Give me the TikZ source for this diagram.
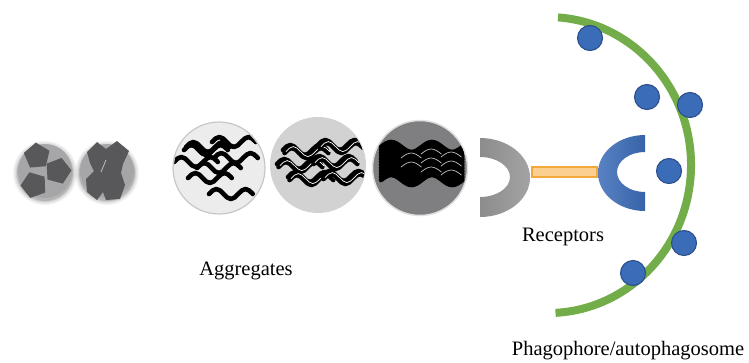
\documentclass[tikz,border=0pt]{standalone}
\usepackage{fontspec}
\setmainfont{Liberation Serif}
\usetikzlibrary{shapes.geometric}
\definecolor{cellgray}{HTML}{A6A6A8}
\definecolor{clump}{HTML}{58585A}
\definecolor{aggA}{HTML}{ECECEC}
\definecolor{aggB}{HTML}{D2D2D2}
\definecolor{aggC}{HTML}{7F7F81}
\definecolor{membrane}{HTML}{72AD4A}
\definecolor{atg}{HTML}{3B6CB7}
\definecolor{atgedge}{HTML}{2B4F8C}
\definecolor{linkfill}{HTML}{FBCF8F}
\definecolor{linkedge}{HTML}{F2A93B}
\tikzset{
  lbl/.style={font=\fontsize{20.5}{24}\selectfont, anchor=base, inner sep=0pt},
  seed/.style={draw=none, fill=cellgray},
  penta/.style={regular polygon, regular polygon sides=5, fill=clump, inner sep=0pt, minimum size=27pt},
  fibril/.style={line width=4.6pt, line cap=round, line join=round, black},
  strand/.style={line width=0.7pt, white, line cap=round},
  dot/.style={circle, fill=atg, draw=atgedge, line width=1.1pt, minimum size=25pt, inner sep=0pt},
  % one and a half periods, 44pt long
  pics/wavy/.style={code={
    \draw[pic actions] (0,0) sin (7.3,-5) cos (14.6,0) sin (21.9,5) cos (29.2,0)
      sin (36.5,-5) cos (43.8,0);}},
  % two periods, 44pt long
  pics/bandwave/.style={code={
    \draw[pic actions] (0,0) sin (5.5,-5) cos (11,0) sin (16.5,5) cos (22,0)
      sin (27.5,-5) cos (33,0) sin (38.5,5) cos (44,0);}},
  % half a period, 11pt long
  pics/wavelet/.style={code={
    \draw[pic actions] (0,0) sin (5.5,-5) cos (11,0);}},
}
\begin{document}
\begin{tikzpicture}[x=1pt,y=-1pt]
\useasboundingbox (0,0) rectangle (749,362);

% soft shadows under the two small seeds
\foreach \r/\o in {32/0.05,30.5/0.07,29/0.09,28/0.12}{
  \fill[black,opacity=\o] (45,173) circle[radius=\r];
  \fill[black,opacity=\o] (107,173) circle[radius=\r];
}
\node[circle, seed, minimum size=54pt, inner sep=0pt] (s1) at (45,171) {};
\node[circle, seed, minimum size=54pt, inner sep=0pt] (s2) at (107,171) {};

% three separate pentagons
\node[penta, rotate=5] (p1) at (37,156) {};
\node[penta, rotate=-15] (p2) at (58,171) {};
\node[penta, rotate=20] (p3) at (34,185) {};

% fused pentagons
\fill[clump] (87,152) -- (97,142) -- (106,149) -- (117,141) -- (129,151) -- (123,164)
  -- (121,173) -- (125,185) -- (120,199) -- (106,200) -- (103,192) -- (97,200)
  -- (87,192) -- (86,179) -- (94,171) -- (90,163) -- cycle;
\draw[cellgray!70, line width=0.8pt] (106,160) -- (101,172);

% aggregate 1: scattered fibrils
\node[circle, fill=aggA, draw=black!22, line width=1.2pt, minimum size=92pt, inner sep=0pt] (a1) at (219,168) {};
\begin{scope}
\clip (a1.center) circle[radius=45];
\pic[fibril] at (212,142) {wavy};
\pic[fibril] at (184,150) {wavy};
\pic[fibril] at (186,147) {wavy};
\pic[fibril] at (214,158) {wavy};
\pic[fibril] at (174,162) {wavy};
\pic[fibril] at (197,168) {wavy};
\pic[fibril] at (188,178) {wavy};
\pic[fibril] at (209,194) {wavy};
\end{scope}

% aggregate 2: paired fibrils
\node[circle, fill=aggB, minimum size=96pt, inner sep=0pt] (a2) at (318,165) {};
\begin{scope}
\clip (a2.center) circle[radius=47];
\foreach \x/\y in {283/150, 318/145, 277/164, 312/161, 288/177, 322/176}{
  \pic[fibril] at (\x,\y) {wavy};
  \pic[fibril] at (\x+1.5,\y+3) {wavy};
  \pic[strand] at (\x+3,\y+1.6) {wavy};
}
\end{scope}

% aggregate 3: dense fibril bundle
\node[circle, fill=aggC, draw=black!12, line width=1.5pt, minimum size=95pt, inner sep=0pt] (a3) at (420,168) {};
\begin{scope}
\clip (a3.center) circle[radius=46.5];
\foreach \k in {0,3,...,33}{
  \pic[fibril, xscale=1.85] at (381,147+\k) {bandwave};
}
\foreach \x/\y in {401/158, 401/167, 421/154, 421/163, 421/172, 441/157, 441/166, 441/175}{
  \pic[strand, opacity=0.75, xscale=1.85] at (\x,\y) {wavelet};
}
\end{scope}

% cargo receptor, grey half
\path[left color=black!45, right color=black!36]
  (480,138) arc[start angle=-90, end angle=90, x radius=50, y radius=39.5]
  -- (480,197) arc[start angle=90, end angle=-90, x radius=30, y radius=20] -- cycle;
\coordinate (rg) at (530,172);

% cargo receptor, blue half
\path[left color=atg!85!white, right color=atg!92!black]
  (645,135) arc[start angle=-90, end angle=-270, x radius=47, y radius=38]
  -- (645,192) arc[start angle=90, end angle=270, x radius=28, y radius=20] -- cycle;
\coordinate (rb) at (598,172);

% linker between the two halves
\path[fill=linkfill, draw=linkedge, line width=1.2pt] (532,167) rectangle (597,177);

% phagophore membrane
\draw[membrane, line width=8pt]
  (558,17.4) arc[start angle=-86, end angle=87, x radius=143, y radius=148];

% membrane-bound proteins
\node[dot] (d1) at (590,38) {};
\node[dot] (d2) at (647,97) {};
\node[dot] (d3) at (690,105) {};
\node[dot] (d4) at (669,171) {};
\node[dot] (d5) at (684,243) {};
\node[dot] (d6) at (633,273) {};

% labels
\node[lbl] (tagg) at (246,275) {Aggregates};
\node[lbl] (trec) at (563,241) {Receptors};
\node[lbl] (tpha) at (628,355) {Phagophore/autophagosome};
\end{tikzpicture}
\end{document}
